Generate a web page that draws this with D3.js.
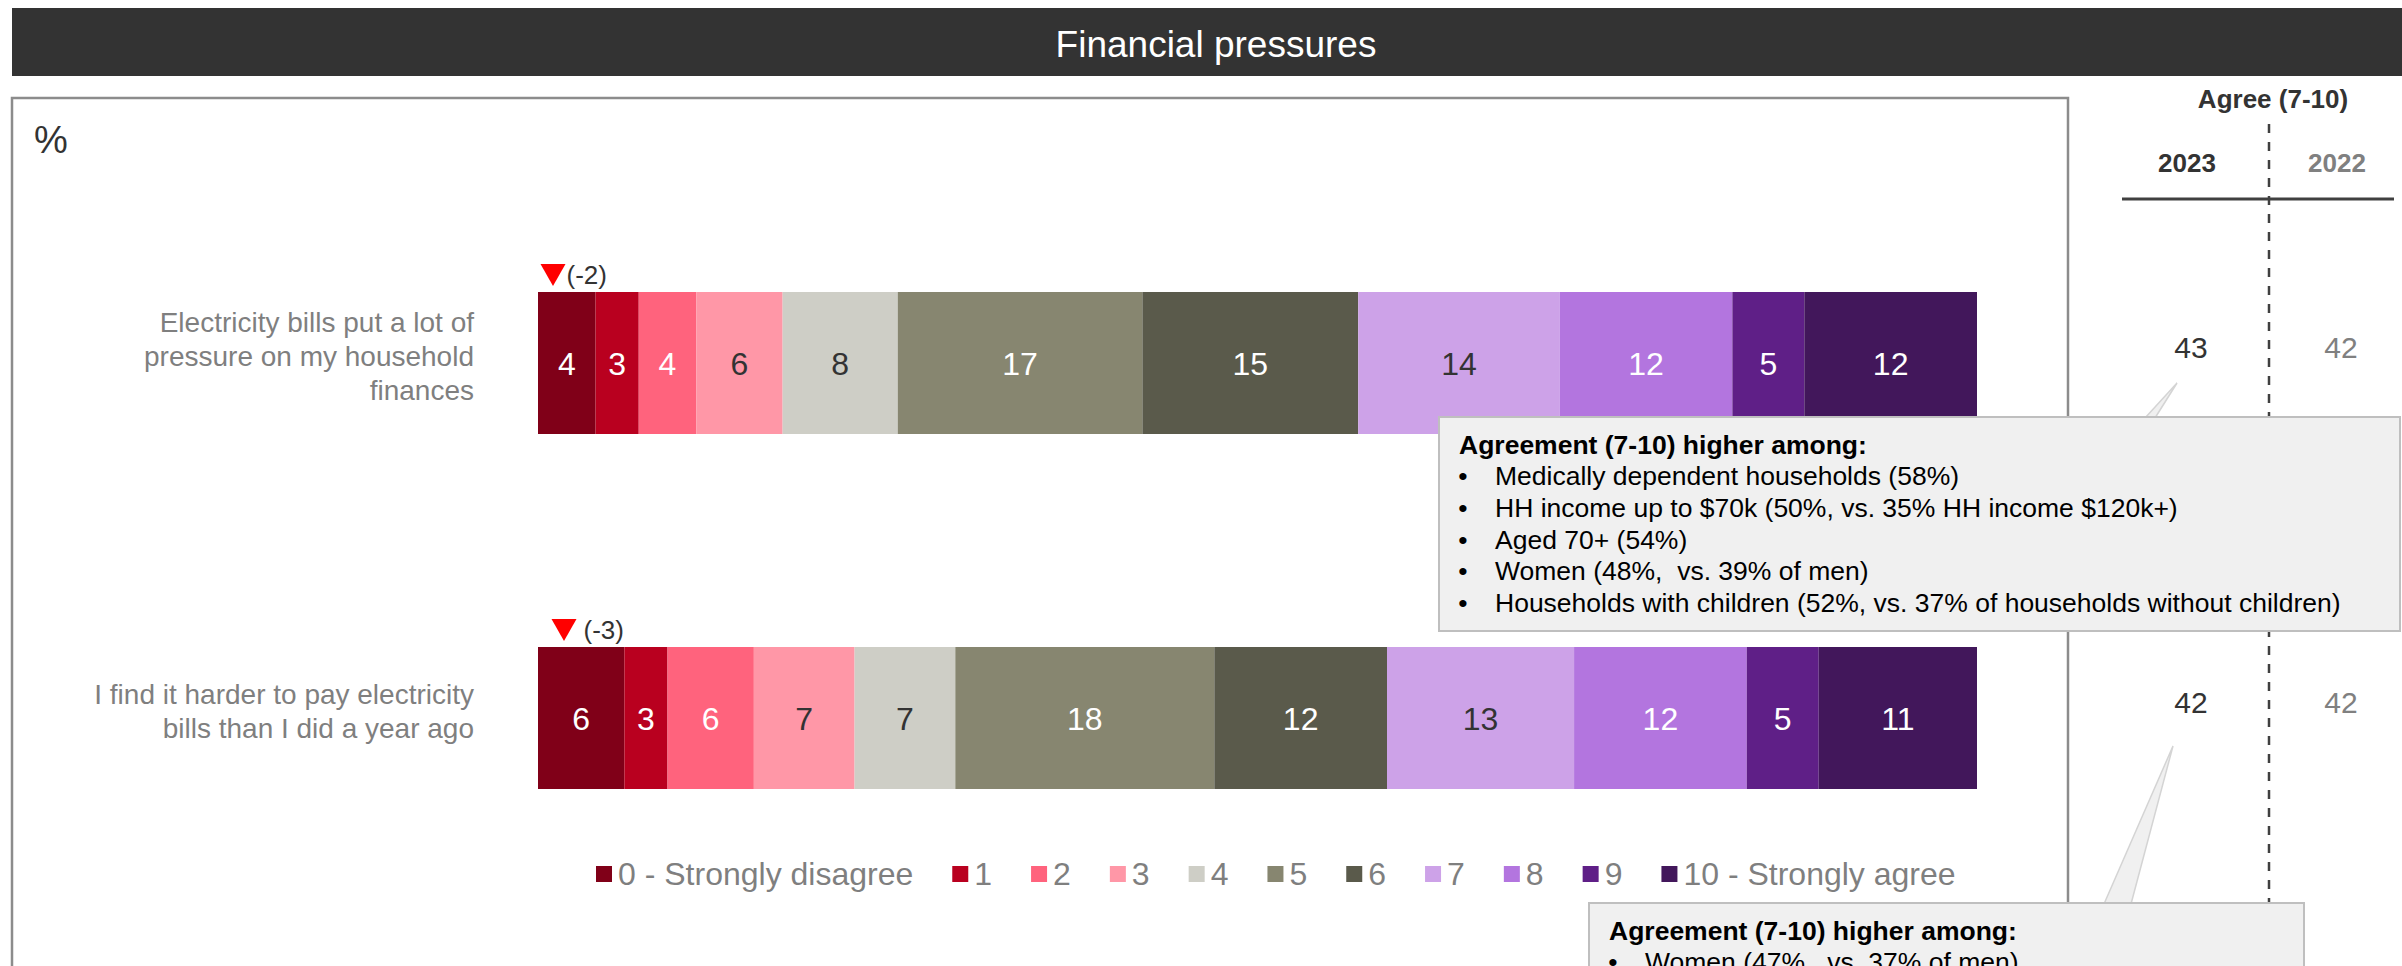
<!DOCTYPE html>
<html>
<head>
<meta charset="utf-8">
<script src="https://cdn.jsdelivr.net/npm/d3@7"></script>
<style>
  html, body { margin: 0; padding: 0; background: #ffffff; }
  svg { display: block; font-family: "Liberation Sans", Arial, Helvetica, sans-serif; }
  text { white-space: pre; }
</style>
</head>
<body>
<svg id="chart" width="2402" height="966"></svg>
<script>
// ---- data ----
const title = "Financial pressures";
const statements = [
  "Electricity bills put a lot of\npressure on my household\nfinances",
  "I find it harder to pay electricity\nbills than I did a year ago"
];
const scalePoints = ["0 - Strongly disagree", "1", "2", "3", "4", "5", "6", "7", "8", "9", "10 - Strongly agree"];
const billsPressure2023 = [4, 3, 4, 6, 8, 17, 15, 14, 12, 5, 12];
const harderToPay2023 = [6, 3, 6, 7, 7, 18, 12, 13, 12, 5, 11];
const agree2023 = [43, 42];
const agree2022 = [42, 42];
const changeSince2022 = [-2, -3];
const yearHeaders = ["2023", "2022"];
const calloutHeading = "Agreement (7-10) higher among:";
const calloutBills = [
  "Medically dependent households (58%)",
  "HH income up to $70k (50%, vs. 35% HH income $120k+)",
  "Aged 70+ (54%)",
  "Women (48%,  vs. 39% of men)",
  "Households with children (52%, vs. 37% of households without children)"
];
const calloutHarder = [
  "Women (47%,  vs. 37% of men)"
];

// ---- styles ----
const segColors = ["#800018", "#b9001f", "#ff637d", "#ff97a7", "#cecec6", "#878670",
                   "#5a5a4b", "#cda2e8", "#b375df", "#5f1f87", "#42175b"];
const darkLabelSegs = new Set([3, 4, 7]);
const greyText = "#7f7f7f";
const darkText = "#333333";

const svg = d3.select("#chart");

// title band
svg.append("rect").attr("x", 12).attr("y", 8).attr("width", 2390).attr("height", 68).attr("fill", "#333333");
svg.append("text").attr("x", 1216).attr("y", 57).attr("text-anchor", "middle")
  .attr("font-size", 37).attr("fill", "#ffffff").text(title);

// chart frame
svg.append("path").attr("d", "M12,980V98H2068V980")
  .attr("fill", "none").attr("stroke", "#8c8c8c").attr("stroke-width", 2.5);
svg.append("text").attr("x", 34).attr("y", 153).attr("font-size", 38).attr("fill", darkText).text("%");

// scales
const rows = [billsPressure2023, harderToPay2023];
const x = d3.scaleLinear().domain([0, 100]).range([538, 1977]);
const y = d3.scaleBand().domain(d3.range(rows.length)).range([185.5, 895.5])
  .paddingInner(0.6).paddingOuter(0.3);

// stacked bars
rows.forEach((vals, r) => {
  const cum = d3.cumsum(vals);
  const segs = vals.map((v, i) => ({ i, v, x0: cum[i] - v, x1: cum[i] }));
  const g = svg.append("g");
  g.selectAll("rect").data(segs).join("rect")
    .attr("x", d => x(d.x0)).attr("width", d => x(d.x1) - x(d.x0))
    .attr("y", y(r)).attr("height", y.bandwidth())
    .attr("fill", d => segColors[d.i]);
  g.selectAll("text").data(segs).join("text")
    .attr("x", d => (x(d.x0) + x(d.x1)) / 2)
    .attr("y", y(r) + y.bandwidth() / 2)
    .attr("dy", "0.36em").attr("text-anchor", "middle").attr("font-size", 32)
    .attr("fill", d => darkLabelSegs.has(d.i) ? darkText : "#ffffff")
    .text(d => d.v);

  // statement label
  const lines = statements[r].split("\n");
  const cy = y(r) + y.bandwidth() / 2 - 7;
  const lh = 34;
  const t = svg.append("text").attr("text-anchor", "end").attr("font-size", 28).attr("fill", greyText);
  lines.forEach((ln, k) => {
    t.append("tspan").attr("x", 474)
      .attr("y", cy + (k - (lines.length - 1) / 2) * lh + 10).text(ln);
  });
});

// change markers above the first segment
const markerDx = [15, 26];
const labelGap = [1, 7];
changeSince2022.forEach((c, r) => {
  const cx = x(0) + markerDx[r];
  const top = y(r) - 28;
  svg.append("path")
    .attr("d", `M${cx - 12.5},${top}L${cx + 12.5},${top}L${cx},${top + 22}Z`)
    .attr("fill", "#ff0000");
  svg.append("text").attr("x", cx + 12.5 + labelGap[r]).attr("y", top + 11)
    .attr("dy", "0.36em").attr("font-size", 26).attr("fill", darkText)
    .text(`(${c})`);
});

// legend
let lx = 596;
scalePoints.forEach((lab, i) => {
  svg.append("rect").attr("x", lx).attr("y", 866).attr("width", 16).attr("height", 16).attr("fill", segColors[i]);
  const tt = svg.append("text").attr("x", lx + 22).attr("y", 885).attr("font-size", 32)
    .attr("fill", greyText).text(lab);
  lx += 22 + tt.node().getComputedTextLength() + 39;
});

// agree (7-10) panel
const colX = [2191, 2341];
svg.append("line").attr("x1", 2269).attr("x2", 2269).attr("y1", 124).attr("y2", 966)
  .attr("stroke", "#404040").attr("stroke-width", 2.5).attr("stroke-dasharray", "9,9");
svg.append("text").attr("x", 2273).attr("y", 108).attr("text-anchor", "middle")
  .attr("font-size", 26).attr("font-weight", "bold").attr("fill", darkText).text("Agree (7-10)");
yearHeaders.forEach((h, k) => {
  svg.append("text").attr("x", colX[k] - 4).attr("y", 172).attr("text-anchor", "middle")
    .attr("font-size", 26).attr("font-weight", "bold")
    .attr("fill", k === 0 ? darkText : "#808080").text(h);
});
svg.append("line").attr("x1", 2122).attr("x2", 2394).attr("y1", 199).attr("y2", 199)
  .attr("stroke", "#404040").attr("stroke-width", 3);
[agree2023, agree2022].forEach((arr, k) => {
  arr.forEach((v, r) => {
    svg.append("text").attr("x", colX[k]).attr("y", y(r) + y.bandwidth() / 2 - 16)
      .attr("dy", "0.36em").attr("text-anchor", "middle").attr("font-size", 30)
      .attr("fill", k === 0 ? darkText : "#808080").text(v);
  });
});

// callouts
function callout(box, tip, base, items) {
  const g = svg.append("g");
  g.append("path")
    .attr("d", `M${base[0]},${box.y + 1}L${tip[0]},${tip[1]}L${base[1]},${box.y + 1}`)
    .attr("fill", "#f0f0f0").attr("stroke", "#d4d4d4").attr("stroke-width", 1.5);
  g.append("rect").attr("x", box.x).attr("y", box.y).attr("width", box.w).attr("height", box.h)
    .attr("fill", "#f0f0f0").attr("stroke", "#bfbfbf").attr("stroke-width", 2);
  g.append("text").attr("x", box.x + 20).attr("y", box.y + 37).attr("font-size", 26.5)
    .attr("font-weight", "bold").attr("fill", "#000000").text(calloutHeading);
  items.forEach((s, k) => {
    const by = box.y + 68 + k * 31.8;
    g.append("text").attr("x", box.x + 24).attr("y", by).attr("font-size", 26.5)
      .attr("text-anchor", "middle").attr("fill", "#000000").text("\u2022");
    g.append("text").attr("x", box.x + 56).attr("y", by).attr("font-size", 26.5)
      .attr("fill", "#000000").text(s);
  });
}
callout({ x: 1439, y: 417, w: 961, h: 214 }, [2177, y(0) + y.bandwidth() / 2 + 20], [2145, 2155], calloutBills);
callout({ x: 1589, y: 903, w: 715, h: 120 }, [2173, y(1) + y.bandwidth() / 2 + 28], [2104, 2131], calloutHarder);
</script>
</body>
</html>
